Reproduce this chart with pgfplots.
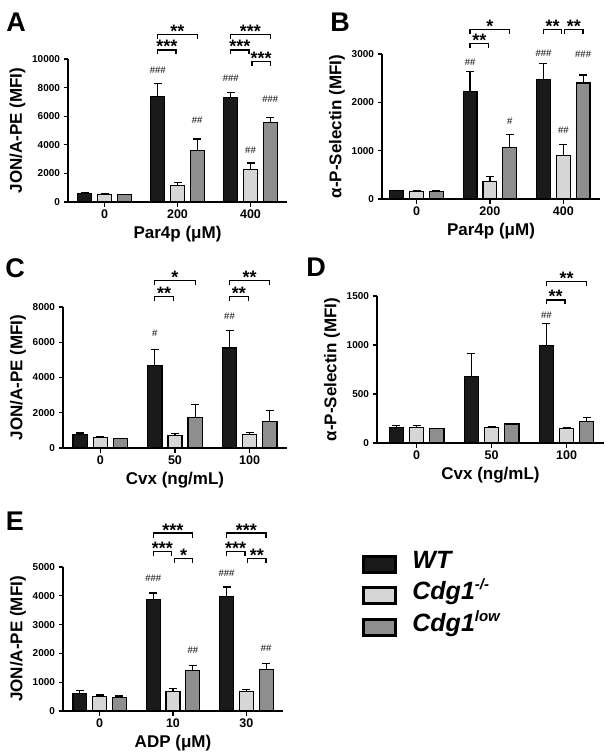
\documentclass[border=0pt]{standalone}
\usepackage{fontspec}
\setmainfont{Liberation Sans}
\usepackage{pgfplots}
\usepackage{pgfplotstable}
\pgfplotsset{compat=1.18}
\definecolor{wtc}{HTML}{1A1A1A}
\definecolor{koc}{HTML}{D6D6D6}
\definecolor{loc}{HTML}{8E8E8E}

\pgfplotstableread{
x wt wte ko koe lo loe
0 600 40 550 30 520 30
1 7400 900 1150 200 3600 800
2 7300 380 2250 480 5580 350
}\tA
\pgfplotstableread{
x wt wte ko koe lo loe
0 170 10 155 10 160 10
1 2230 400 360 110 1060 280
2 2480 320 895 230 2400 165
}\tB
\pgfplotstableread{
x wt wte ko koe lo loe
0 760 90 590 60 520 20
1 4680 930 720 100 1750 700
2 5670 1000 760 100 1520 600
}\tC
\pgfplotstableread{
x wt wte ko koe lo loe
0 156 20 160 15 146 5
1 679 237 160 12 193 10
2 994 228 150 8 220 40
}\tD
\pgfplotstableread{
x wt wte ko koe lo loe
0 612 90 500 55 480 40
1 3870 230 670 115 1420 170
2 3984 323 690 60 1440 200
}\tE

\pgfplotsset{
  panel/.style={
    scale only axis, axis lines=left, axis line style={-, line width=1.3pt},
    ybar, bar width=0.19, xmin=-0.5, xmax=2.5, ymin=0, xtick={0,1,2},
    tick align=outside, major tick length=4.5pt,
    tick style={line width=1.3pt, black},
    clip=false, scaled y ticks=false,
    /pgf/number format/assume math mode=true,
    /pgf/number format/1000 sep={},
    yticklabel style={font=\bfseries\fontsize{10}{10}\selectfont},
    xticklabel style={font=\bfseries\fontsize{12.5}{12.5}\selectfont},
    label style={font=\bfseries\fontsize{17}{17}\selectfont},
    error bars/y dir=plus, error bars/y explicit,
    error bars/error bar style={line width=1.2pt, black, solid},
    error bars/error mark options={rotate=90, line width=1.2pt, mark size=4pt, black},
  },
  wtbar/.style={draw=black, line width=1.2pt, fill=wtc, bar shift=-0.27},
  kobar/.style={draw=black, line width=1.2pt, fill=koc, bar shift=0},
  lobar/.style={draw=black, line width=1.2pt, fill=loc, bar shift=0.27},
  legbox/.style={legend image code/.code={\draw[##1, line width=3pt] (0pt,-8pt) rectangle (32pt,8pt);}},
}

\newcommand{\sig}[5]{%
  \draw[line width=1.3pt] ([yshift=-4.5pt]axis cs:#1,#4) -- (axis cs:#1,#4) -- (axis cs:#2,#4) -- ([yshift=-4.5pt]axis cs:#2,#4);
  \node[anchor=base, yshift=-3pt, inner sep=0pt, font=\bfseries\fontsize{18}{18}\selectfont] at (axis cs:#3,#4) {#5};}
\newcommand{\hs}[3]{%
  \node[inner sep=0pt, font=\fontsize{9.5}{9.5}\selectfont] at (axis cs:#1,#2) {#3};}

\begin{document}
\begin{tikzpicture}
\useasboundingbox (0pt,0pt) rectangle (614pt,-752pt);

% ---------- A ----------
\begin{axis}[panel, at={(68pt,-202pt)}, anchor=south west, width=219pt, height=143pt,
  ymax=10000, ytick={0,2000,4000,6000,8000,10000}, xticklabels={0,200,400},
  ylabel={JON/A-PE (MFI)}, xlabel={Par4p (μM)}]
\addplot[wtbar] table[x=x, y=wt, y error=wte] {\tA};
\addplot[kobar] table[x=x, y=ko, y error=koe] {\tA};
\addplot[lobar] table[x=x, y=lo, y error=loe] {\tA};
\sig{0.73}{0.98}{0.855}{10630}{***}
\sig{0.73}{1.27}{1.0}{11730}{**}
\sig{1.73}{1.98}{1.855}{10630}{***}
\sig{1.73}{2.27}{2.0}{11730}{***}
\sig{2.02}{2.27}{2.145}{9810}{***}
\hs{0.73}{9230}{\#\#\#}
\hs{1.27}{5730}{\#\#}
\hs{1.73}{8650}{\#\#\#}
\hs{2.0}{3640}{\#\#}
\hs{2.27}{7180}{\#\#\#}
\end{axis}

% ---------- B ----------
\begin{axis}[panel, at={(382pt,-199pt)}, anchor=south west, width=218pt, height=145pt,
  xmin=-0.47, ymax=3000, ytick={0,1000,2000,3000}, xticklabels={0,200,400},
  ylabel={α-P-Selectin (MFI)}, xlabel={Par4p (μM)}]
\addplot[wtbar] table[x=x, y=wt, y error=wte] {\tB};
\addplot[kobar] table[x=x, y=ko, y error=koe] {\tB};
\addplot[lobar] table[x=x, y=lo, y error=loe] {\tB};
\sig{0.73}{0.98}{0.855}{3220}{**}
\sig{0.73}{1.27}{1.0}{3510}{*}
\sig{1.73}{1.98}{1.855}{3510}{**}
\sig{2.02}{2.27}{2.145}{3510}{**}
\hs{0.73}{2820}{\#\#}
\hs{1.27}{1600}{\#}
\hs{1.73}{3010}{\#\#\#}
\hs{2.0}{1430}{\#\#}
\hs{2.27}{3000}{\#\#\#}
\end{axis}

% ---------- C ----------
\begin{axis}[panel, at={(63pt,-448pt)}, anchor=south west, width=224pt, height=141pt,
  ymax=8000, ytick={0,2000,4000,6000,8000}, xticklabels={0,50,100},
  ylabel={JON/A-PE (MFI)}, xlabel={Cvx (ng/mL)}]
\addplot[wtbar] table[x=x, y=wt, y error=wte] {\tC};
\addplot[kobar] table[x=x, y=ko, y error=koe] {\tC};
\addplot[lobar] table[x=x, y=lo, y error=loe] {\tC};
\sig{0.73}{0.98}{0.855}{8600}{**}
\sig{0.73}{1.27}{1.0}{9490}{*}
\sig{1.73}{1.98}{1.855}{8600}{**}
\sig{1.73}{2.27}{2.0}{9490}{**}
\hs{0.73}{6510}{\#}
\hs{1.73}{7460}{\#\#}
\end{axis}

% ---------- D ----------
\begin{axis}[panel, at={(377pt,-443pt)}, anchor=south west, width=227pt, height=147pt,
  xmin=-0.53, ymax=1500, ytick={0,500,1000,1500}, xticklabels={0,50,100},
  ylabel={α-P-Selectin (MFI)}, xlabel={Cvx (ng/mL)}]
\addplot[wtbar] table[x=x, y=wt, y error=wte] {\tD};
\addplot[kobar] table[x=x, y=ko, y error=koe] {\tD};
\addplot[lobar] table[x=x, y=lo, y error=loe] {\tD};
\sig{1.73}{1.98}{1.855}{1460}{**}
\sig{1.73}{2.27}{2.0}{1646}{**}
\hs{1.73}{1306}{\#\#}
\end{axis}

% ---------- E ----------
\begin{axis}[panel, at={(63pt,-711pt)}, anchor=south west, width=220pt, height=144pt,
  ymax=5000, ytick={0,1000,2000,3000,4000,5000}, xticklabels={0,10,30},
  ylabel={JON/A-PE (MFI)}, xlabel={ADP (μM)},
  legend cell align=left,
  legend style={at={(rel axis cs:1.36,1.13)}, anchor=north west, draw=none, fill=none,
    inner sep=0pt, row sep=0pt,
    font=\bfseries\itshape\fontsize{25}{25}\selectfont,
    nodes={inner sep=0pt, text height=20pt, text depth=11.5pt}}]
\addplot[wtbar, legbox] table[x=x, y=wt, y error=wte] {\tE};
\addlegendentry{\hspace*{15pt}WT}
\addplot[kobar, legbox] table[x=x, y=ko, y error=koe] {\tE};
\addlegendentry{\hspace*{15pt}Cdg1\raisebox{10pt}{\fontsize{15}{15}\selectfont -/-}}
\addplot[lobar, legbox] table[x=x, y=lo, y error=loe] {\tE};
\addlegendentry{\hspace*{15pt}Cdg1\raisebox{10pt}{\fontsize{15}{15}\selectfont low}}
\sig{0.73}{1.27}{1.0}{6180}{***}
\sig{0.73}{0.98}{0.855}{5550}{***}
\sig{1.02}{1.27}{1.145}{5290}{*}
\sig{1.73}{2.27}{2.0}{6180}{***}
\sig{1.73}{1.98}{1.855}{5550}{***}
\sig{2.02}{2.27}{2.145}{5290}{**}
\hs{0.73}{4600}{\#\#\#}
\hs{1.27}{2110}{\#\#}
\hs{1.73}{4790}{\#\#\#}
\hs{2.27}{2170}{\#\#}
\end{axis}

% panel letters
\node[font=\bfseries\fontsize{27}{27}\selectfont] at (16pt,-22pt) {A};
\node[font=\bfseries\fontsize{27}{27}\selectfont] at (340pt,-22pt) {B};
\node[font=\bfseries\fontsize{27}{27}\selectfont] at (15pt,-268pt) {C};
\node[font=\bfseries\fontsize{27}{27}\selectfont] at (316pt,-267pt) {D};
\node[font=\bfseries\fontsize{27}{27}\selectfont] at (15pt,-521pt) {E};
\end{tikzpicture}
\end{document}
